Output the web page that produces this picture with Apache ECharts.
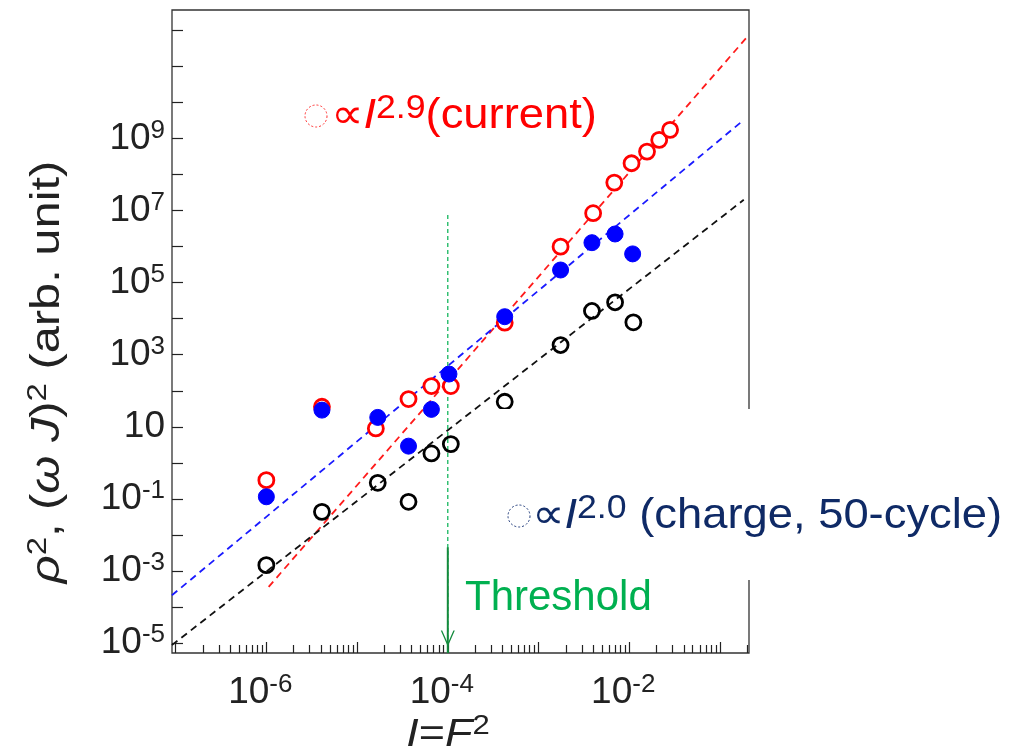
<!DOCTYPE html>
<html><head><meta charset="utf-8">
<script src="https://cdn.jsdelivr.net/npm/echarts@6/dist/echarts.min.js"></script>
<style>html,body{margin:0;padding:0;background:#fff}#c{width:1012px;height:751px}</style>
</head><body><div id="c"></div>
<script>
// ---- data (x: I = F^2, y: rho^2 or (omega J)^2) ----
const currentI   = [1.0e-6, 4.1e-6, 1.61e-5, 3.69e-5, 6.6e-5, 1.08e-4, 4.24e-4, 1.75e-3, 4.0e-3, 6.84e-3, 1.06e-2, 1.57e-2, 2.14e-2, 2.82e-2];
const currentVal = [0.33, 36, 9.0, 58.8, 135, 135, 7740, 1.0e6, 8.5e6, 6.0e7, 2.07e8, 4.36e8, 9.2e8, 1.75e9];
const filledI    = [1.0e-6, 4.1e-6, 1.69e-5, 3.69e-5, 6.6e-5, 1.03e-4, 4.24e-4, 1.75e-3, 3.88e-3, 6.98e-3, 1.09e-2];
const filledVal  = [0.114, 29, 18.2, 2.9, 30.4, 291, 11370, 2.25e5, 1.29e6, 2.25e6, 6.3e5];
const chargeI    = [1.0e-6, 4.1e-6, 1.69e-5, 3.69e-5, 6.6e-5, 1.08e-4, 4.24e-4, 1.75e-3, 3.88e-3, 6.98e-3, 1.11e-2];
const chargeVal  = [1.44e-3, 0.0435, 0.278, 0.0826, 1.82, 3.3, 49.5, 1860, 16400, 28550, 7940];
// dashed fit lines (end points)
const fitCurrentI = [1.06e-6, 0.209], fitCurrentVal = [3.6e-4, 7.6e11];
const fitFilledI  = [9.1e-8, 0.183],  fitFilledVal  = [2.1e-4, 3.3e9];
const fitChargeI  = [9.1e-8, 0.183],  fitChargeVal  = [8.7e-6, 2.0e7];
// threshold marker
const thresholdI = 1e-4, thresholdTopVal = 7.6e6, arrowTopVal = 4.5e-3, arrowTipVal = 8e-6;
// axes (decade exponents)
const xRange = [-7.04, -0.68];
const yRange = [-5.28, 12.57];
const xTickExp  = [-7, -6, -5, -4, -3, -2, -1];
const xLabelExp = [-6, -4, -2];
const yTickExp  = [-5, -4, -3, -2, -1, 0, 1, 2, 3, 4, 5, 6, 7, 8, 9, 10, 11, 12];
const yLabelExp = [-5, -3, -1, 1, 3, 5, 7, 9];

const L = Math.log10;
const pts = (xs, ys) => xs.map((x, i) => [L(x), L(ys[i])]);
const xMinor = [];
for (let d = -8; d <= -1; d++) for (let k = 2; k <= 9; k++) {
  const v = d + L(k); if (v > xRange[0] && v < xRange[1]) xMinor.push(v);
}
const FONT = "'Liberation Sans', Arial, 'DejaVu Sans', sans-serif";
const expFmt = v => (Math.round(v) === 1 ? '{b|10}' : '{b|10}{s|' + Math.round(v) + '}');
const labelRich = {
  b: { fontSize: 37, fontFamily: FONT, color: '#222', lineHeight: 42 },
  s: { fontSize: 26, fontFamily: FONT, color: '#222', lineHeight: 32, verticalAlign: 'top' }
};

const chart = echarts.init(document.getElementById('c'), null, { renderer: 'canvas' });
const dashed = (color) => ({ color, width: 1.8, type: [7, 5] });
const tickStyle = { color: '#222', width: 1.2 };

chart.setOption({
  animation: false,
  backgroundColor: '#fff',
  grid: { left: 172, right: 263, top: 10, bottom: 98, show: true, borderColor: '#333', borderWidth: 1.3, backgroundColor: 'transparent' },
  xAxis: [
    { type: 'value', min: xRange[0], max: xRange[1], position: 'bottom',
      axisLine: { show: false, onZero: false }, splitLine: { show: false },
      axisTick: { show: true, inside: true, length: 11, customValues: xTickExp, lineStyle: tickStyle },
      axisLabel: { customValues: xLabelExp, formatter: expFmt, rich: labelRich, margin: 19, padding: [0, 12, 0, 0] } },
    { type: 'value', min: xRange[0], max: xRange[1], position: 'bottom',
      axisLine: { show: false, onZero: false }, splitLine: { show: false },
      axisTick: { show: true, inside: true, length: 8, customValues: xMinor, lineStyle: tickStyle },
      axisLabel: { show: false } }
  ],
  yAxis: [
    { type: 'value', min: yRange[0], max: yRange[1], position: 'left',
      axisLine: { show: false, onZero: false }, splitLine: { show: false },
      axisTick: { show: true, inside: true, length: 11, customValues: yTickExp, lineStyle: tickStyle },
      axisLabel: { customValues: yLabelExp, formatter: expFmt, rich: labelRich, margin: 7 } }
  ],
  series: [
    { type: 'line', name: 'fit current', data: pts(fitCurrentI, fitCurrentVal), symbol: 'none', lineStyle: dashed('#ff1a1a'), z: 2 },
    { type: 'line', name: 'fit filled', data: pts(fitFilledI, fitFilledVal), symbol: 'none', lineStyle: dashed('#1a1aff'), z: 2 },
    { type: 'line', name: 'fit charge', data: pts(fitChargeI, fitChargeVal), symbol: 'none', lineStyle: dashed('#111'), z: 2 },
    { type: 'line', name: 'threshold', data: [[L(thresholdI), L(thresholdTopVal)], [L(thresholdI), yRange[0]]],
      symbol: 'none', lineStyle: { color: '#00B050', width: 1.2, type: [4, 3] }, z: 3 },
    { type: 'line', name: 'threshold arrow', data: [[L(thresholdI), L(arrowTopVal)], [L(thresholdI), yRange[0]]],
      symbol: 'none', lineStyle: { color: '#138a3c', width: 2 }, z: 3 },
    { type: 'scatter', name: 'arrow head', data: [[L(thresholdI), L(arrowTipVal)]],
      symbol: 'path://M0,0 L7,16 L14,0 L12.6,0 L7,12.8 L1.4,0 Z', symbolSize: [14, 16], symbolOffset: [0, '-50%'],
      itemStyle: { color: '#138a3c', opacity: 1 }, z: 4, silent: true },
    { type: 'scatter', name: 'current', data: pts(currentI, currentVal), symbol: 'circle', symbolSize: 15,
      itemStyle: { color: '#fff', borderColor: '#ff0000', borderWidth: 2.8, opacity: 1 }, z: 5 },
    { type: 'scatter', name: 'filled', data: pts(filledI, filledVal), symbol: 'circle', symbolSize: 16,
      itemStyle: { color: '#0000ff', borderColor: '#0000ff', borderWidth: 1, opacity: 1 }, z: 6 },
    { type: 'scatter', name: 'charge', data: pts(chargeI, chargeVal), symbol: 'circle', symbolSize: 15,
      itemStyle: { color: 'rgba(255,255,255,0)', borderColor: '#000', borderWidth: 2.8, opacity: 1 }, z: 6 }
  ],
  graphic: [
    // white box behind the charge label (cuts the right spine)
    { type: 'rect', z: 50, shape: { x: 492, y: 409, width: 520, height: 171 }, style: { fill: '#fff' } },
    // y title
    { type: 'text', z: 60, x: 48, y: 372, rotation: Math.PI / 2, scaleX: 1.22,
      style: { text: '{i|ρ}{s|2}{r|, (}{i|ω J}{r|)}{s|2}{r| (arb. unit)}', align: 'center', verticalAlign: 'middle',
        rich: {
          i: { fontSize: 40, fontFamily: FONT, fontStyle: 'italic', fill: '#222', lineHeight: 46 },
          r: { fontSize: 40, fontFamily: FONT, fill: '#222', lineHeight: 46 },
          s: { fontSize: 27, fontFamily: FONT, fill: '#222', lineHeight: 32, verticalAlign: 'top' }
        } } },
    // x title
    { type: 'text', z: 60, x: 448, y: 735, scaleX: 1.15,
      style: { text: '{i|I}{r|=}{i|F}{s|2}', align: 'center', verticalAlign: 'middle',
        rich: {
          i: { fontSize: 39, fontFamily: FONT, fontStyle: 'italic', fill: '#222', lineHeight: 44 },
          r: { fontSize: 39, fontFamily: FONT, fill: '#222', lineHeight: 44 },
          s: { fontSize: 27, fontFamily: FONT, fill: '#222', lineHeight: 30, verticalAlign: 'top' }
        } } },
    // current annotation
    { type: 'circle', z: 60, shape: { cx: 316, cy: 116, r: 11 }, style: { fill: 'none', stroke: '#ff3030', lineWidth: 1, lineDash: [2, 2] } },
    { type: 'text', z: 60, x: 331, y: 116, scaleX: 1.08,
      style: { text: '{r|∝}{i|I}{s|2.9}{r|(current)}', align: 'left', verticalAlign: 'middle',
        rich: {
          i: { fontSize: 42, fontFamily: FONT, fontStyle: 'italic', fill: '#ff0000', lineHeight: 48 },
          r: { fontSize: 42, fontFamily: FONT, fill: '#ff0000', lineHeight: 48 },
          s: { fontSize: 33, fontFamily: FONT, fill: '#ff0000', lineHeight: 36, verticalAlign: 'top' }
        } } },
    // charge annotation
    { type: 'circle', z: 60, shape: { cx: 519, cy: 516, r: 11 }, style: { fill: 'none', stroke: '#1f3a7a', lineWidth: 1, lineDash: [2, 2] } },
    { type: 'text', z: 60, x: 532, y: 516, scaleX: 1.08,
      style: { text: '{r|∝}{i|I}{s|2.0}{r| (charge, 50-cycle)}', align: 'left', verticalAlign: 'middle',
        rich: {
          i: { fontSize: 42, fontFamily: FONT, fontStyle: 'italic', fill: '#0f2a66', lineHeight: 48 },
          r: { fontSize: 42, fontFamily: FONT, fill: '#0f2a66', lineHeight: 48 },
          s: { fontSize: 33, fontFamily: FONT, fill: '#0f2a66', lineHeight: 36, verticalAlign: 'top' }
        } } },
    // threshold label
    { type: 'text', z: 60, x: 465, y: 598,
      style: { text: 'Threshold', align: 'left', verticalAlign: 'middle', fontSize: 42, fontFamily: FONT, fill: '#00B050' } }
  ]
});
</script></body></html>
